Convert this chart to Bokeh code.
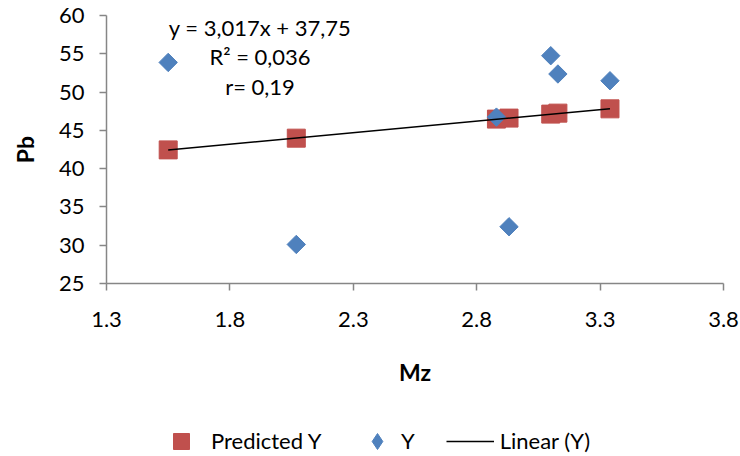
import numpy as np
from bokeh.plotting import figure
from bokeh.layouts import column
from bokeh.models import Range1d, FixedTicker, Legend, LegendItem, Label, NumeralTickFormatter
from bokeh.embed import file_html
from bokeh.resources import INLINE

# ---- data ----
mz = [1.55, 2.069, 2.88, 2.931, 3.10, 3.129, 3.34]
pb_observed = [53.87, 30.10, 46.73, 32.41, 54.75, 52.36, 51.48]
pb_predicted = [42.45, 43.98, 46.47, 46.60, 47.12, 47.25, 47.81]
trend_x = [1.55, 3.34]
trend_y = [42.43, 47.83]
x_ticks = [1.3, 1.8, 2.3, 2.8, 3.3, 3.8]
y_ticks = [25, 30, 35, 40, 45, 50, 55, 60]
equation_lines = ["y = 3,017x + 37,75", "R\u00b2 = 0,036", "r= 0,19"]
series_names = ["Predicted Y", "Y", "Linear (Y)"]
x_title = "Mz"
y_title = "Pb"

FONT = "Lato"
AXIS_GRAY = "#868686"
RED = "#C0504D"
BLUE = "#4F81BD"

p = figure(width=740, height=408, output_backend="svg", toolbar_location=None,
           x_range=Range1d(1.3, 3.8), y_range=Range1d(25, 60),
           min_border_left=106, min_border_right=17, min_border_top=15,
           min_border_bottom=125)
p.outline_line_color = None
p.xgrid.grid_line_color = None
p.ygrid.grid_line_color = None

r_pred = p.scatter(mz, pb_predicted, marker="square", size=18,
                   fill_color=RED, line_color=RED)
r_obs = p.scatter(mz, pb_observed, marker="square", angle=np.pi / 4, size=13,
                  fill_color=BLUE, line_color=BLUE)
r_lin = p.line(trend_x, trend_y, line_color="black", line_width=1.5)

p.xaxis.ticker = FixedTicker(ticks=x_ticks)
p.yaxis.ticker = FixedTicker(ticks=y_ticks)
p.xaxis.formatter = NumeralTickFormatter(format="0.0")

for ax in (p.xaxis[0], p.yaxis[0]):
    ax.axis_line_color = AXIS_GRAY
    ax.axis_line_width = 1.5
    ax.major_tick_line_color = AXIS_GRAY
    ax.major_tick_line_width = 1.5
    ax.major_tick_out = 7
    ax.major_tick_in = 0
    ax.minor_tick_out = 0
    ax.minor_tick_in = 0
    ax.major_label_text_font = FONT
    ax.major_label_text_font_size = "22px"
    ax.major_label_text_color = "#000000"
    ax.axis_label_text_font = FONT
    ax.axis_label_text_font_style = "bold"
    ax.axis_label_text_font_size = "23px"
    ax.axis_label_text_color = "#000000"

p.xaxis.axis_label = x_title
p.yaxis.axis_label = y_title
p.xaxis.major_label_standoff = 21
p.yaxis.major_label_standoff = 15
p.xaxis.axis_label_standoff = 28
p.yaxis.axis_label_standoff = 17

# regression annotation
eq_x = 1.922
eq_y = [58.44, 54.60, 50.68]
for txt, yy in zip(equation_lines, eq_y):
    p.add_layout(Label(x=eq_x, y=yy, text=txt, text_align="center",
                       text_baseline="alphabetic", text_font=FONT,
                       text_font_size="22px", text_color="#000000"))

# ---- legend strip below the chart ----
lg_fig = figure(width=740, height=48, output_backend="svg", toolbar_location=None,
                x_range=Range1d(0, 1), y_range=Range1d(0, 1),
                min_border_left=106, min_border_right=17, min_border_top=0,
                min_border_bottom=0)
lg_fig.axis.visible = False
lg_fig.xgrid.visible = False
lg_fig.ygrid.visible = False
lg_fig.outline_line_color = None

# legend-key renderers (their points lie outside this strip's ranges)
l_pred = lg_fig.scatter(x=[-5], y=[-5], marker="square", fill_color=RED, line_color=RED)
l_obs = lg_fig.scatter(x=[-5], y=[-5], marker="diamond",
                       fill_color=BLUE, line_color=BLUE)
l_lin = lg_fig.line(x=[-5, -4], y=[-5, -5], line_color="black", line_width=1.5)

def make_legend(item, loc, gw, gh, standoff):
    lg = Legend(items=[item], location=loc, orientation="horizontal",
                glyph_width=gw, glyph_height=gh, label_height=gh,
                label_standoff=standoff,
                padding=0, margin=0, spacing=0,
                border_line_alpha=0, background_fill_alpha=0,
                label_text_font=FONT, label_text_font_size="22px",
                label_text_color="#000000")
    lg_fig.add_layout(lg, "center")

make_legend(LegendItem(label=series_names[0], renderers=[l_pred]), (51, -4.5), 48, 40, 6)
make_legend(LegendItem(label=series_names[1], renderers=[l_obs]), (251, -4.5), 40, 40, 4)
make_legend(LegendItem(label=series_names[2], renderers=[l_lin]), (339.7, 1.5), 48, 28, 6)

layout = column(p, lg_fig, spacing=0)
open("out.html", "w").write(file_html(layout, INLINE))
